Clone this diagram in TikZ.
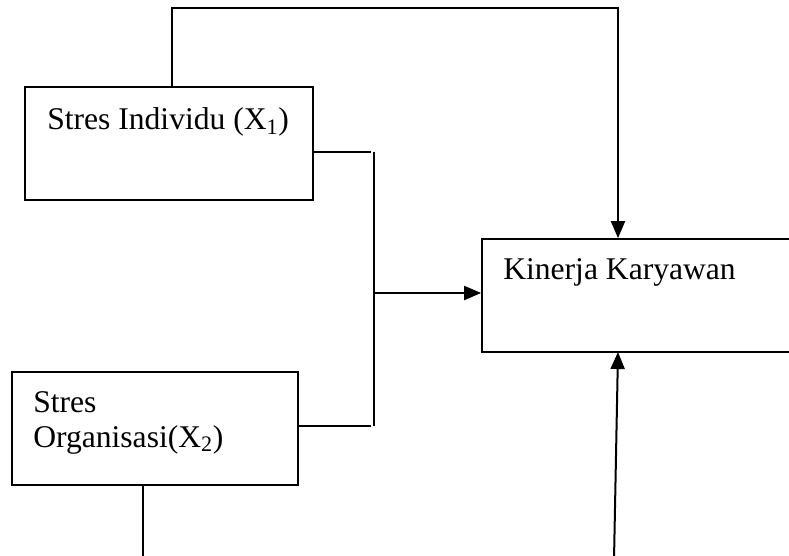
\documentclass[tikz,border=0pt]{standalone}
\usepackage{fontspec}
\setmainfont{Liberation Serif}
\usetikzlibrary{arrows.meta}
\begin{document}
\begin{tikzpicture}[x=0.75pt,y=0.75pt,>={Triangle[length=12.75pt,width=10.5pt]},
  box/.style={draw,line width=1.3pt,inner sep=0pt,minimum height=84.75pt},
  lbl/.style={anchor=base west,inner sep=0pt,font=\fontsize{23.7}{26.25}\selectfont},
  wire/.style={line width=1.5pt}]
\useasboundingbox (0,0) rectangle (789,-556);
\node[box,minimum width=216pt] (ind) at (169,-143.5) {};
\node[box,minimum width=214.5pt] (org) at (155,-428.5) {};
\node[box,minimum width=261pt] (kin) at (656,-295.5) {};
\node[lbl] (indtxt) at (47,-130) {Stres Individu (X\textsubscript{1})};
\node[lbl] (orgtxt) at (33,-412) {Stres};
\node[lbl] (orgtxt2) at (33,-447) {Organisasi(X\textsubscript{2})};
\node[lbl] (kintxt) at (503,-279) {Kinerja Karyawan};
\coordinate (topl) at (172,-8); \coordinate (topr) at (618,-8);
\coordinate (jtop) at (374,-152); \coordinate (jbot) at (374,-426); \coordinate (jmid) at (374,-293);
\coordinate (down) at (143,-560); \coordinate (up) at (614,-560);
\draw[wire,->] (topl |- ind.north) -- (topl) -- (topr) -- (topr |- kin.north);
\draw[wire] (jtop -| ind.east) -- ([xshift=-2.25pt]jtop); \draw[wire] (jbot -| org.east) -- ([xshift=-2.25pt]jbot);
\draw[wire] (jtop) -- (jbot); \draw[wire,->] (jmid) -- (jmid -| kin.west);
\draw[wire] (down |- org.south) -- (down);
\draw[wire,->] (up) -- (618,-352);
\end{tikzpicture}
\end{document}
